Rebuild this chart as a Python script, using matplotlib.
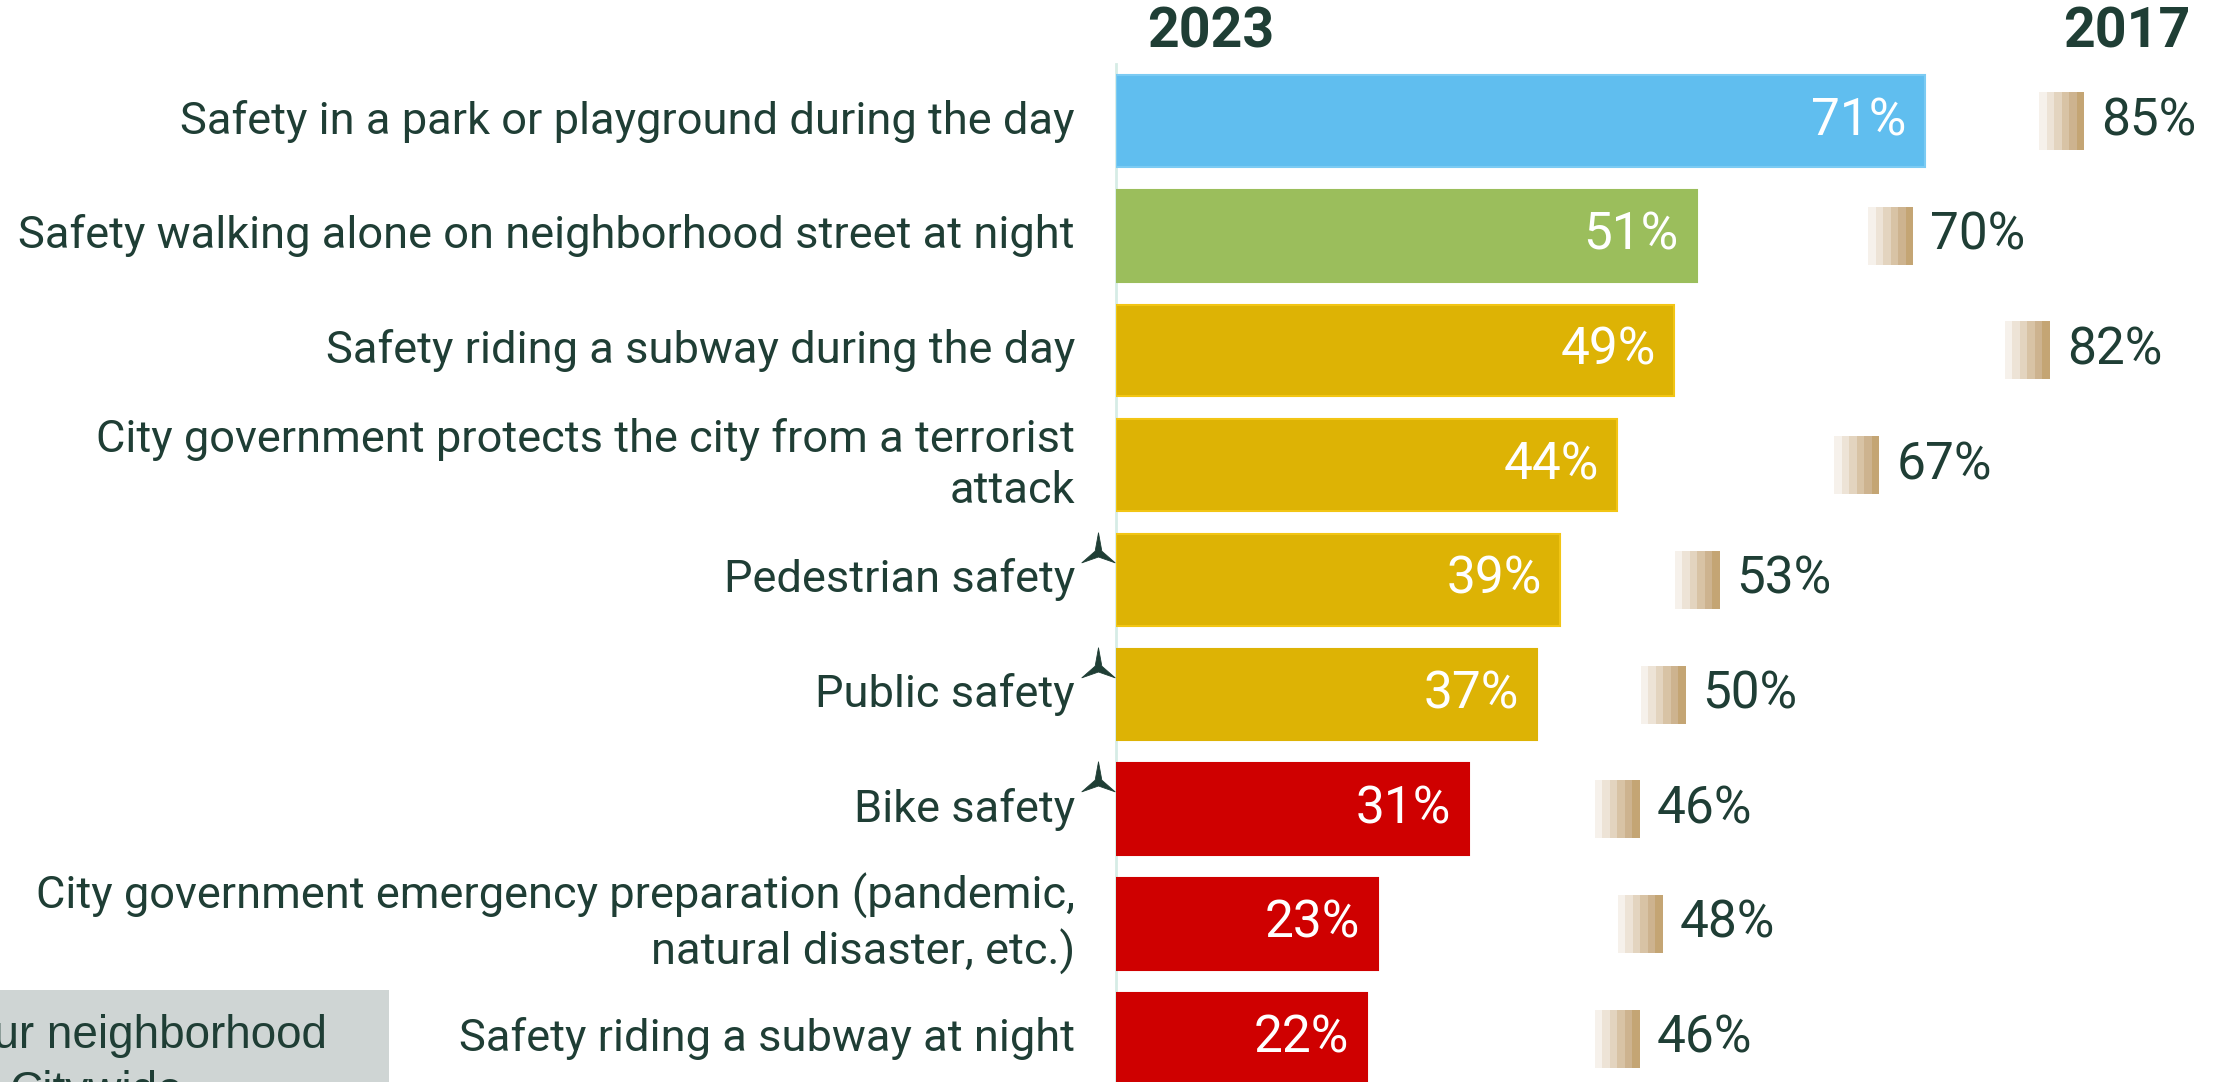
import matplotlib.pyplot as plt
from matplotlib.patches import Rectangle
from matplotlib.path import Path

# data
labels = [
    "Safety in a park or playground during the day",
    "Safety walking alone on neighborhood street at night",
    "Safety riding a subway during the day",
    "City government protects the city from a terrorist\nattack",
    "Pedestrian safety",
    "Public safety",
    "Bike safety",
    "City government emergency preparation (pandemic,\nnatural disaster, etc.)",
    "Safety riding a subway at night",
]
vals_2023 = [71, 51, 49, 44, 39, 37, 31, 23, 22]
vals_2017 = [85, 70, 82, 67, 53, 50, 46, 48, 46]
flagged = [False, False, False, False, True, True, True, False, False]
bar_colors = ["#60BEEF", "#9BBE5C", "#DDB305", "#DDB305", "#DDB305",
              "#DDB305", "#CF0000", "#CF0000", "#CF0000"]
edge_colors = ["#7CCBF3", "#9BBE5C", "#F2C514", "#F2C514", "#F2C514",
               "#DDB305", "#CF0000", "#CF0000", "#CF0000"]
grad_colors = ["#F6F1EB", "#EDE3D6", "#E3D4BF", "#D8C3A5", "#CDB38F", "#C4A574"]

TXT = "#1F3E35"
W, H = 2226, 1082
px_per_unit = 11.39   # pixels per percentage point
row_px = 114.7
first_row_px = 121

fig = plt.figure(figsize=(W / 100, H / 100), dpi=100)
ax_left = 1116 / W
ax = fig.add_axes([ax_left, 0, 1 - ax_left, 1])
ax.set_xlim(0, (W - 1116) / px_per_unit)
ax.set_ylim((H - first_row_px) / row_px, -first_row_px / row_px)
ax.axis("off")

# thin axis line
ax.plot([0, 0], [(64 - first_row_px) / row_px, 9], color="#D6ECE6", lw=2, clip_on=False, zorder=1)

# arrow glyph
arrow = Path([(0, 1), (0.2, -0.1), (1, -0.8), (0, -0.45), (-1, -0.8), (-0.2, -0.1), (0, 1)],
             [Path.MOVETO] + [Path.LINETO] * 5 + [Path.CLOSEPOLY])

pad = 18 / px_per_unit
mw = 45 / px_per_unit
mh = 58 / row_px
for i, (lab, v, v17) in enumerate(zip(labels, vals_2023, vals_2017)):
    ax.barh(i, v, height=0.80, color=bar_colors[i], edgecolor=edge_colors[i], linewidth=1.5, zorder=2)
    ax.text(v - pad, i, f"{v}%", ha="right", va="center", color="white",
            fontsize=37, family="Roboto", zorder=3)
    ax.text(-41 / px_per_unit, i, lab, ha="right", va="center", color=TXT,
            fontsize=32.6, family="Roboto", linespacing=1.28, clip_on=False)
    if flagged[i]:
        ax.plot([-18 / px_per_unit], [i - 31 / row_px], marker=arrow, markersize=24,
                color=TXT, markeredgewidth=0.6, clip_on=False, zorder=3)
    # 2017 marker: stepped gradient ending at the 2017 value
    bw = mw / len(grad_colors)
    for k, c in enumerate(grad_colors):
        ax.add_patch(Rectangle((v17 - mw + k * bw, i - mh / 2), bw * 1.02, mh,
                               facecolor=c, edgecolor="none", zorder=2))
    ax.text(v17 + 17 / px_per_unit, i, f"{v17}%", ha="left", va="center", color=TXT,
            fontsize=37, family="Roboto")

# year headers
fig.text(1147 / W, 1 - 32 / H, "2023", ha="left", va="center", fontsize=40,
         fontweight="bold", family="Roboto", color=TXT)
fig.text(2190 / W, 1 - 32 / H, "2017", ha="right", va="center", fontsize=40,
         fontweight="bold", family="Roboto", color=TXT)

# cut-off grey note box at the bottom left
fig.patches.append(Rectangle((0, 0), 389 / W, (H - 990) / H, transform=fig.transFigure,
                             facecolor="#CFD5D4", edgecolor="none", zorder=0))
fig.text(327 / W, 1 - 1048 / H, "In your neighborhood", ha="right", va="baseline",
         fontsize=33, family="Liberation Sans", color=TXT)
fig.text(10 / W, 1 - 1104 / H, "Citywide", ha="left", va="baseline",
         fontsize=33, family="Liberation Sans", color=TXT)

fig.savefig("out.png", dpi=100)
